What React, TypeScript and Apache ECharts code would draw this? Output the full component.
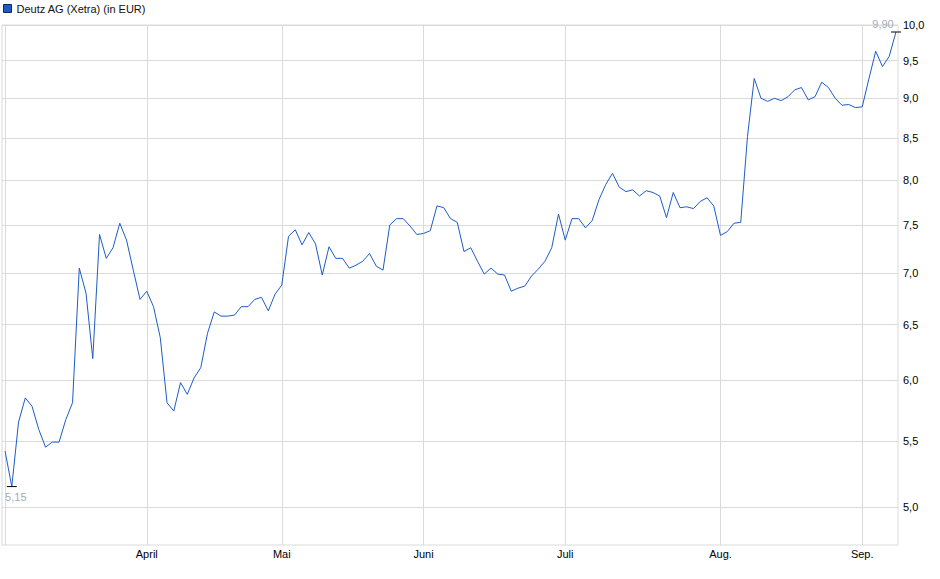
import { useEffect, useRef } from 'react';
import * as echarts from 'echarts';

// Deutz AG Xetra closes, one per trading day (3 Mar 2025 .. 8 Sep 2025)
const prices = [
  5.42, 5.15, 5.65, 5.85, 5.78, 5.59, 5.45, 5.49, 5.49, 5.67,
  5.81, 7.05, 6.80, 6.19, 7.40, 7.15, 7.26, 7.52, 7.34, 7.03,
  6.74, 6.82, 6.67, 6.38, 5.81, 5.74, 5.98, 5.88, 6.02, 6.11,
  6.42, 6.62, 6.58, 6.58, 6.59, 6.67, 6.67, 6.74, 6.76, 6.63,
  6.79, 6.88, 7.38, 7.45, 7.29, 7.42, 7.30, 6.98, 7.27, 7.15,
  7.15, 7.05, 7.08, 7.12, 7.20, 7.07, 7.03, 7.50, 7.57, 7.57,
  7.49, 7.40, 7.41, 7.44, 7.71, 7.69, 7.57, 7.53, 7.22, 7.26,
  7.12, 6.99, 7.05, 6.99, 6.98, 6.82, 6.85, 6.87, 6.97, 7.04,
  7.12, 7.26, 7.62, 7.34, 7.57, 7.57, 7.47, 7.55, 7.78, 7.95,
  8.08, 7.92, 7.87, 7.89, 7.82, 7.88, 7.86, 7.82, 7.58, 7.86,
  7.69, 7.70, 7.68, 7.76, 7.80, 7.71, 7.39, 7.43, 7.52, 7.53,
  8.52, 9.26, 9.00, 8.96, 9.00, 8.97, 9.02, 9.11, 9.14, 8.98,
  9.02, 9.21, 9.14, 9.00, 8.91, 8.92, 8.88, 8.89, 9.26, 9.63,
  9.42, 9.56, 9.90,
];

// index of the first trading day of each month
const monthStarts = [0, 21, 41, 62, 83, 106, 127];
const monthNames = ['März', 'April', 'Mai', 'Juni', 'Juli', 'Aug.', 'Sep.'];
const priceTicks = [5, 5.5, 6, 6.5, 7, 7.5, 8, 8.5, 9, 9.5, 10];

const SERIES_NAME = 'Deutz AG (Xetra) (in EUR)';
const FONT = '"Liberation Sans", Arial, sans-serif';
const LINE_COLOR = '#1d5cc6';
const GRID_COLOR = '#dadada';

const fmt = (v: number, d: number) => v.toFixed(d).replace('.', ',');

const App = () => {
  const chartRef = useRef<HTMLDivElement>(null);

  useEffect(() => {
    document.body.style.margin = '0';
    if (!chartRef.current) return;
    const chart = echarts.init(chartRef.current, null, { renderer: 'svg' });

    // log price scale: plot ln(price) on a value axis
    const logTicks = priceTicks.map((p) => Math.log(p));
    const seriesData = prices.map((p, i) => [i, Math.log(p)]);

    chart.setOption({
      animation: false,
      backgroundColor: '#fff',
      textStyle: { fontFamily: FONT },
      legend: {
        left: -2,
        top: -2,
        itemWidth: 8,
        itemHeight: 8,
        itemGap: 5,
        icon: 'rect',
        textStyle: { fontSize: 11, color: '#111', fontFamily: FONT },
        data: [{ name: SERIES_NAME, itemStyle: { color: LINE_COLOR, borderColor: '#0d2a66', borderWidth: 1 } }],
      },
      grid: {
        left: 2,
        right: 42,
        top: 25,
        bottom: 34,
        show: true,
        borderColor: GRID_COLOR,
        borderWidth: 1,
        containLabel: false,
      },
      xAxis: {
        type: 'value',
        min: -0.45,
        max: 132.3,
        axisLine: { show: false },
        axisTick: { show: false, customValues: monthStarts },
        splitLine: { show: true, lineStyle: { color: GRID_COLOR, width: 1 } },
        axisLabel: {
          customValues: monthStarts.slice(1),
          formatter: (v: number) => monthNames[monthStarts.indexOf(Math.round(v))] ?? '',
          color: '#000',
          fontSize: 11,
          fontFamily: FONT,
          margin: 3,
        },
      },
      yAxis: {
        type: 'value',
        position: 'right',
        min: Math.log(4.735),
        max: Math.log(10),
        axisLine: { show: false },
        axisTick: { show: false, customValues: logTicks },
        splitLine: { show: true, lineStyle: { color: GRID_COLOR, width: 1 } },
        axisLabel: {
          customValues: logTicks,
          formatter: (v: number) => fmt(Math.exp(v), 1),
          color: '#000',
          fontSize: 11,
          fontFamily: FONT,
          margin: 5,
        },
      },
      series: [
        {
          name: SERIES_NAME,
          type: 'line',
          data: seriesData,
          showSymbol: false,
          symbol: 'none',
          lineStyle: { color: LINE_COLOR, width: 1 },
          itemStyle: { color: LINE_COLOR },
          markPoint: {
            symbol: 'rect',
            symbolSize: [10, 1],
            itemStyle: { color: '#000' },
            label: {
              show: true,
              fontSize: 11,
              fontFamily: FONT,
              color: '#a3abbb',
              formatter: (p: any) => fmt(Math.exp(p.value), 2),
            },
            data: [
              { type: 'min', name: 'Tief', label: { position: 'bottom', distance: 4, offset: [4, 0] } },
              { type: 'max', name: 'Hoch', label: { position: 'top', distance: 2, offset: [-13, 0] } },
            ],
          },
        },
      ],
    });

    return () => chart.dispose();
  }, []);

  return <div ref={chartRef} style={{ width: 940, height: 579 }} />;
};

export default App;
